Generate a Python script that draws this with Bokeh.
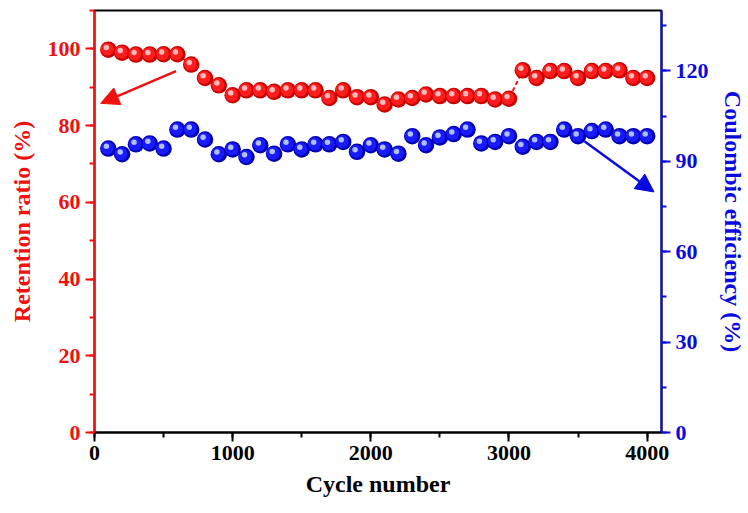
from bokeh.plotting import figure
from bokeh.models import (Range1d, LinearAxis, SingleIntervalTicker, ColumnDataSource,
                          Arrow, NormalHead)
from bokeh.transform import dodge
from bokeh.embed import file_html
from bokeh.resources import INLINE

# ---- data ----
cycles = [100, 200, 300, 400, 500, 600, 700, 800, 900, 1000,
          1100, 1200, 1300, 1400, 1500, 1600, 1700, 1800, 1900, 2000,
          2100, 2200, 2300, 2400, 2500, 2600, 2700, 2800, 2900, 3000,
          3100, 3200, 3300, 3400, 3500, 3600, 3700, 3800, 3900, 4000]
retention = [99.8, 99.0, 98.5, 98.5, 98.6, 98.6, 95.9, 92.4, 90.5, 87.9,
             89.2, 89.2, 88.8, 89.2, 89.2, 89.2, 87.2, 89.2, 87.4, 87.4,
             85.5, 86.8, 87.2, 88.1, 87.7, 87.7, 87.7, 87.7, 86.8, 87.0,
             94.4, 92.4, 94.2, 94.2, 92.4, 94.2, 94.2, 94.4, 92.4, 92.4]
coulombic = [94.2, 92.3, 95.6, 95.9, 94.2, 100.5, 100.5, 97.2, 92.3, 93.9,
             91.4, 95.3, 92.5, 95.6, 93.9, 95.6, 95.6, 96.4, 93.1, 95.3,
             93.9, 92.5, 98.3, 95.3, 97.9, 99.0, 100.5, 95.9, 96.4, 98.3,
             94.8, 96.4, 96.4, 100.5, 98.3, 100.0, 100.5, 98.3, 98.3, 98.3]

x_label = "Cycle number"
left_label = "Retention ratio (%)"
right_label = "Coulombic efficiency (%)"

# arrow annotations (data coordinates)
red_arrow = dict(x_start=590, y_start=94.2, x_end=45, y_end=85.8)
blue_arrow = dict(x_start=3546, y_start=96.6, x_end=4050, y_end=79.8)

RED = "#f01010"
BLUE = "#0a0ae0"
FONT = "Liberation Serif"

src = ColumnDataSource(dict(x=cycles, r=retention, c=coulombic))

p = figure(width=748, height=513, output_backend="svg", toolbar_location=None,
           x_range=Range1d(0, 4104), y_range=Range1d(0, 110),
           min_border_left=94, min_border_right=86, min_border_top=10,
           min_border_bottom=81)
p.extra_y_ranges = {"ce": Range1d(0, 140)}
p.xgrid.visible = False
p.ygrid.visible = False
p.outline_line_color = "black"
p.outline_line_width = 2
p.background_fill_color = "white"
p.border_fill_color = "white"

def style_axis(ax, color, label, interval):
    ax.ticker = SingleIntervalTicker(interval=interval, num_minor_ticks=2)
    ax.axis_label = label
    ax.axis_line_color = color
    ax.axis_line_width = 2
    ax.major_tick_line_color = color
    ax.major_tick_line_width = 2
    ax.minor_tick_line_color = color
    ax.minor_tick_line_width = 2
    ax.major_tick_in = 0
    ax.major_tick_out = 9
    ax.minor_tick_in = 0
    ax.minor_tick_out = 5
    ax.major_label_text_color = color
    ax.major_label_text_font = FONT
    ax.major_label_text_font_style = "bold"
    ax.major_label_text_font_size = "22px"
    ax.major_label_standoff = 5
    ax.axis_label_text_color = color
    ax.axis_label_text_font = FONT
    ax.axis_label_text_font_style = "bold"
    ax.axis_label_text_font_size = "24px"
    ax.axis_label_standoff = 10

style_axis(p.xaxis[0], "black", x_label, 1000)
p.xaxis[0].major_label_standoff = 4
p.xaxis[0].axis_label_standoff = 8
style_axis(p.yaxis[0], RED, left_label, 20)

right = LinearAxis(y_range_name="ce")
style_axis(right, BLUE, right_label, 30)
right.axis_label_standoff = 8
p.add_layout(right, "right")

# red dashed connecting line
p.line("x", "r", source=src, line_color=RED, line_width=2, line_dash="4 3")

def spheres(field, yr, dark, mid, hi, y_px):
    kw = {} if yr is None else {"y_range_name": yr}
    p.scatter("x", field, source=src, size=16.5, fill_color=dark, line_color=None, **kw)
    p.scatter(dodge("x", -7), dodge(field, 0.5 * y_px), source=src, size=13,
              fill_color=mid, line_color=None, **kw)
    p.scatter(dodge("x", -14), dodge(field, 2.2 * y_px), source=src, size=5.5,
              fill_color=hi, line_color=None, fill_alpha=0.95, **kw)

spheres("r", None, "#c80000", "#ff1c1c", "#ffc4c4", 1 / 3.836)
spheres("c", "ce", "#0000b0", "#1a1aff", "#b8c8ff", 1 / 3.014)

p.add_layout(Arrow(end=NormalHead(size=18, fill_color=RED, line_color=RED),
                   line_color=RED, line_width=2.5, **red_arrow))
p.add_layout(Arrow(end=NormalHead(size=18, fill_color=BLUE, line_color=BLUE),
                   line_color=BLUE, line_width=2.5, y_range_name="ce", **blue_arrow))

open("out.html", "w").write(file_html(p, INLINE))
